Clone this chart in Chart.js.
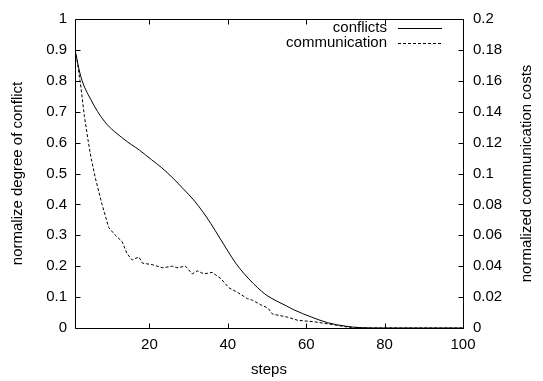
<!DOCTYPE html>
<html>
<head>
<meta charset="utf-8">
<script src="https://cdn.jsdelivr.net/npm/chart.js@4"></script>
<style>
  html, body { margin: 0; padding: 0; background: #fff; }
  #wrap { width: 543px; height: 381px; }
</style>
</head>
<body>
<div id="wrap"><canvas id="c" width="543" height="381"></canvas></div>
<script>
// steps / values
const conflictSteps = [1, 2.5, 5, 8.5, 13.5, 17.5, 20.5, 23, 26, 28.5, 31.3, 33.5, 35.6, 38, 40, 42, 44.2, 46.5, 48.5, 50, 52.5, 55, 57, 61, 65.5, 70, 74, 80, 90, 100];
const conflicts = [0.9, 0.813, 0.74, 0.669, 0.611, 0.575, 0.545, 0.52, 0.485, 0.452, 0.414, 0.378, 0.339, 0.29, 0.249, 0.21, 0.175, 0.144, 0.12, 0.105, 0.087, 0.071, 0.058, 0.037, 0.017, 0.006, 0.001, 0, 0, 0];

const commSteps = [1, 1.5, 2.5, 3.4, 4.3, 5.1, 6.2, 7.9, 9.6, 11.3, 13, 14.3, 15.6, 17.3, 18.2, 20.7, 23.3, 25.9, 27, 29.2, 30.9, 32.2, 33.9, 36, 38.2, 40.3, 42.5, 45, 46.3, 48.4, 50.2, 51.4, 55.3, 57.8, 62.1, 67.2, 71.5, 75, 80, 90, 100];
const communication = [0.18, 0.174, 0.156, 0.137, 0.122, 0.11, 0.097, 0.08, 0.065, 0.06, 0.056, 0.048, 0.044, 0.046, 0.042, 0.041, 0.039, 0.04, 0.039, 0.04, 0.035, 0.037, 0.035, 0.036, 0.032, 0.026, 0.023, 0.019, 0.018, 0.015, 0.013, 0.009, 0.007, 0.005, 0.004, 0.002, 0.0002, 0, 0, 0, 0];

const xTicks = [20, 40, 60, 80, 100];
const leftTicks = ['0', '0.1', '0.2', '0.3', '0.4', '0.5', '0.6', '0.7', '0.8', '0.9', '1'];
const rightTicks = ['0', '0.02', '0.04', '0.06', '0.08', '0.1', '0.12', '0.14', '0.16', '0.18', '0.2'];
const rightTitle = 'normalized communication costs';

const FONT = 'Liberation Sans, Arial, sans-serif';

function pts(xs, ys) {
    return xs.map((x, i) => ({ x: x, y: ys[i] }));
}

// box + inward ticks like gnuplot, right title read bottom-up, and the key
const gnuplotFrame = {
    id: 'gnuplotFrame',
    afterDraw(chart) {
        const ctx = chart.ctx;
        const a = chart.chartArea;
        const sx = chart.scales.x, yl = chart.scales.y, yr = chart.scales.y1;
        const L = Math.round(a.left) + 0.5, R = Math.round(a.right) + 0.5;
        const T = Math.round(a.top) + 0.5, B = Math.round(a.bottom) + 0.5;
        ctx.save();
        ctx.strokeStyle = '#000';
        ctx.lineWidth = 1;
        ctx.setLineDash([]);
        ctx.beginPath();
        ctx.rect(L, T, R - L, B - T);
        yl.ticks.forEach(t => {
            const y = Math.round(yl.getPixelForValue(t.value)) + 0.5;
            ctx.moveTo(L, y); ctx.lineTo(L + 5, y);
        });
        yr.ticks.forEach(t => {
            const y = Math.round(yr.getPixelForValue(t.value)) + 0.5;
            ctx.moveTo(R, y); ctx.lineTo(R - 5, y);
        });
        sx.ticks.forEach(t => {
            const x = Math.round(sx.getPixelForValue(t.value)) + 0.5;
            ctx.moveTo(x, B); ctx.lineTo(x, B - 5);
            ctx.moveTo(x, T); ctx.lineTo(x, T + 5);
        });
        ctx.stroke();

        ctx.font = '15px ' + FONT;
        ctx.fillStyle = '#000';

        // right axis title
        ctx.save();
        ctx.translate(527, (a.top + a.bottom) / 2);
        ctx.rotate(-Math.PI / 2);
        ctx.textAlign = 'center';
        ctx.textBaseline = 'middle';
        ctx.fillText(rightTitle, 0, 0);
        ctx.restore();

        // key
        ctx.textAlign = 'right';
        ctx.textBaseline = 'middle';
        chart.data.datasets.forEach((ds, i) => {
            const y = 28 + i * 15;
            ctx.fillText(ds.label, 387, y);
            ctx.beginPath();
            ctx.setLineDash(ds.borderDash || []);
            ctx.moveTo(398, y + 0.5);
            ctx.lineTo(442, y + 0.5);
            ctx.stroke();
        });
        ctx.restore();
    }
};

const config = {
    type: 'line',
    data: {
        datasets: [{
            label: 'conflicts',
            data: pts(conflictSteps, conflicts),
            yAxisID: 'y',
            borderColor: '#000',
            borderWidth: 1,
            pointRadius: 0,
            cubicInterpolationMode: 'monotone'
        }, {
            label: 'communication',
            data: pts(commSteps, communication),
            yAxisID: 'y1',
            borderColor: '#000',
            borderWidth: 1,
            borderDash: [3, 2],
            pointRadius: 0,
            tension: 0
        }]
    },
    options: {
        responsive: false,
        animation: false,
        layout: { padding: { top: 15, left: 0, right: 0, bottom: 0 } },
        plugins: {
            legend: { display: false },
            tooltip: { enabled: false }
        },
        scales: {
            x: {
                type: 'linear',
                min: 1,
                max: 100,
                afterBuildTicks: s => { s.ticks = xTicks.map(v => ({ value: v })); },
                afterFit: s => { s.height = 53; },
                grid: { display: false, drawTicks: false },
                border: { display: false },
                ticks: { color: '#000', padding: 8, font: { family: FONT, size: 15 } },
                title: { display: true, text: 'steps', color: '#000', padding: { top: 0, bottom: 2 }, font: { family: FONT, size: 15 } }
            },
            y: {
                position: 'left',
                min: 0,
                max: 1,
                afterBuildTicks: s => { s.ticks = leftTicks.map(v => ({ value: parseFloat(v) })); },
                afterFit: s => { s.width = 75; },
                grid: { display: false, drawTicks: false },
                border: { display: false },
                ticks: {
                    color: '#000', padding: 8, font: { family: FONT, size: 15 },
                    callback: (v, i) => leftTicks[i]
                },
                title: { display: true, text: 'normalize degree of conflict', color: '#000', padding: { top: 9, bottom: 0 }, font: { family: FONT, size: 15 } }
            },
            y1: {
                position: 'right',
                min: 0,
                max: 0.2,
                afterBuildTicks: s => { s.ticks = rightTicks.map(v => ({ value: parseFloat(v) })); },
                afterFit: s => { s.width = 80; },
                grid: { display: false, drawTicks: false },
                border: { display: false },
                ticks: {
                    color: '#000', padding: 10, font: { family: FONT, size: 15 },
                    callback: (v, i) => rightTicks[i]
                },
                title: { display: false }
            }
        }
    },
    plugins: [gnuplotFrame]
};

new Chart(document.getElementById('c'), config);
</script>
</body>
</html>
